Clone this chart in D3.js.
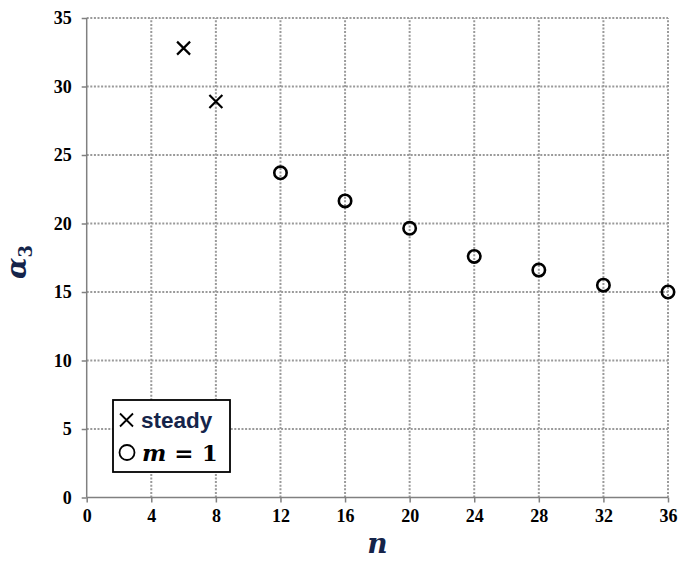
<!DOCTYPE html>
<html>
<head>
<meta charset="utf-8">
<script src="https://cdn.jsdelivr.net/npm/d3@7"></script>
<style>
  body { margin: 0; background: #fff; }
  svg { display: block; }
</style>
</head>
<body>
<div id="chart"></div>
<script>
// data
var steadyN = [6, 8];
var steadyA = [32.8, 28.9];
var m1N = [12, 16, 20, 24, 28, 32, 36];
var m1A = [23.7, 21.65, 19.65, 17.6, 16.6, 15.5, 15.0];
var xTicks = [0, 4, 8, 12, 16, 20, 24, 28, 32, 36];
var yTicks = [0, 5, 10, 15, 20, 25, 30, 35];

var width = 679, height = 561;
var x0 = 86.7, x1 = 668, y0 = 497.5, y1 = 18;

var svg = d3.select("#chart").append("svg")
    .attr("width", width).attr("height", height);

var x = d3.scaleLinear().domain([0, 36]).range([x0, x1]);
var y = d3.scaleLinear().domain([0, 35]).range([y0, y1]);

var grid = svg.append("g").attr("stroke", "#9a9a9a")
    .attr("stroke-width", 2).attr("stroke-dasharray", "2,1.6");

grid.selectAll("line.v").data(xTicks.filter(function (d) { return d > 0; }))
  .enter().append("line")
    .attr("x1", function (d) { return x(d); }).attr("x2", function (d) { return x(d); })
    .attr("y1", y(0)).attr("y2", y(35));

grid.selectAll("line.h").data(yTicks.filter(function (d) { return d > 0; }))
  .enter().append("line")
    .attr("y1", function (d) { return y(d); }).attr("y2", function (d) { return y(d); })
    .attr("x1", x(0)).attr("x2", x(36));

var xAxis = svg.append("g").attr("transform", "translate(0," + y0 + ")")
    .call(d3.axisBottom(x).tickValues(xTicks).tickSize(5).tickPadding(7));
var yAxis = svg.append("g").attr("transform", "translate(" + x0 + ",0)")
    .call(d3.axisLeft(y).tickValues(yTicks).tickSize(5).tickPadding(10));

[xAxis, yAxis].forEach(function (a) {
  a.selectAll("path, line").attr("stroke", "#808080").attr("stroke-width", 1.5);
  a.selectAll("text").attr("fill", "#000")
    .style("font-family", "'Liberation Serif', 'Times New Roman', serif")
    .style("font-weight", "bold").style("font-size", "18px");
});
xAxis.select(".domain").attr("d", "M" + x0 + ",0H" + x1);
yAxis.select(".domain").attr("d", "M0," + y0 + "V" + y1);

// steady: crosses
var cs = 6.5;
svg.append("g").selectAll("path").data(steadyN)
  .enter().append("path")
    .attr("d", function (d, i) {
      var cx = x(d), cy = y(steadyA[i]);
      return "M" + (cx - cs) + "," + (cy - cs) + "L" + (cx + cs) + "," + (cy + cs) +
             "M" + (cx - cs) + "," + (cy + cs) + "L" + (cx + cs) + "," + (cy - cs);
    })
    .attr("stroke", "#000").attr("stroke-width", 2.2).attr("fill", "none");

// m = 1: open circles
svg.append("g").selectAll("circle").data(m1N)
  .enter().append("circle")
    .attr("cx", function (d) { return x(d); })
    .attr("cy", function (d, i) { return y(m1A[i]); })
    .attr("r", 6.2)
    .attr("fill", "none").attr("stroke", "#000").attr("stroke-width", 2.6);

// legend
var lg = svg.append("g");
lg.append("rect").attr("x", 113).attr("y", 400).attr("width", 117).attr("height", 72)
  .attr("fill", "#fff").attr("stroke", "#000").attr("stroke-width", 1.8);
lg.append("path").attr("d", "M120,413.5L133,426.5M120,426.5L133,413.5")
  .attr("stroke", "#000").attr("stroke-width", 1.8);
lg.append("text").attr("x", 141).attr("y", 428).text("steady")
  .attr("fill", "#15244a")
  .style("font-family", "'Liberation Sans', Arial, sans-serif")
  .style("font-weight", "bold").style("font-size", "22.5px");
lg.append("circle").attr("cx", 127).attr("cy", 452.5).attr("r", 7.5)
  .attr("fill", "none").attr("stroke", "#000").attr("stroke-width", 1.8);
var mt = lg.append("text").attr("x", 142).attr("y", 461)
  .attr("fill", "#000")
  .style("font-family", "'DejaVu Serif', 'Liberation Serif', serif")
  .style("font-weight", "bold").style("font-size", "23px");
mt.append("tspan").style("font-style", "italic").text("m");
mt.append("tspan").text(" = 1");

// axis titles
svg.append("text").attr("x", x(18)).attr("y", 553).attr("text-anchor", "middle")
  .text("n").attr("fill", "#15244a")
  .style("font-family", "'DejaVu Serif', 'Liberation Serif', serif")
  .style("font-weight", "bold").style("font-style", "italic").style("font-size", "28px");

var yl = svg.append("text").attr("transform", "translate(26,262) rotate(-90)")
  .attr("text-anchor", "middle").attr("fill", "#15244a")
  .style("font-family", "'DejaVu Serif', 'Liberation Serif', serif")
  .style("font-weight", "bold").style("font-style", "italic").style("font-size", "28px");
yl.append("tspan").text("α");
yl.append("tspan").attr("dy", 6).style("font-size", "18px").style("font-style", "normal").text("3");
</script>
</body>
</html>
